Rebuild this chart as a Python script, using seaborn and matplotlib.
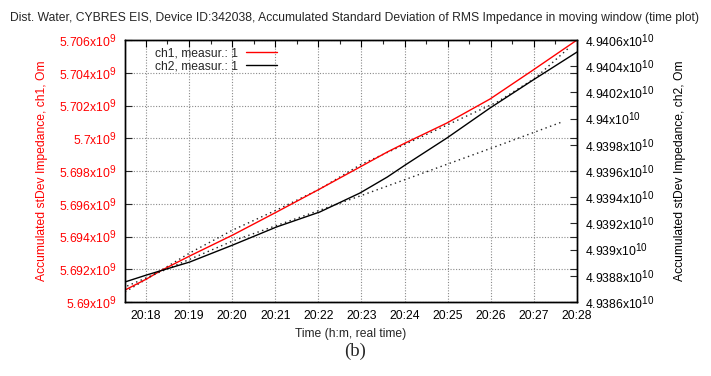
import numpy as np
import pandas as pd
import matplotlib
matplotlib.use("Agg")
import matplotlib.pyplot as plt
import matplotlib.dates as mdates
import matplotlib._mathtext as _mt
from matplotlib.ticker import FixedLocator, FuncFormatter
import seaborn as sns

# ---- data -------------------------------------------------------------
ch1_time = ["20:17:31", "20:18:01", "20:18:20", "20:19:01", "20:20:01", "20:21:02",
            "20:22:02", "20:22:58", "20:23:36", "20:24:01", "20:24:59", "20:25:59",
            "20:26:59", "20:28:00"]
ch1_value = [5.69073e9, 5.691405e9, 5.691893e9, 5.692809e9, 5.694092e9, 5.695496e9,
             5.696901e9, 5.698244e9, 5.699160e9, 5.699710e9, 5.700931e9, 5.702397e9,
             5.704168e9, 5.706000e9]

ch2_time = ["20:17:31", "20:18:01", "20:19:01", "20:20:01", "20:21:02", "20:22:02",
            "20:22:58", "20:23:36", "20:24:01", "20:24:59", "20:25:59", "20:26:59",
            "20:28:00"]
ch2_value = [4.938753e10, 4.938806e10, 4.938905e10, 4.939035e10, 4.939173e10, 4.939287e10,
             4.939432e10, 4.939554e10, 4.939646e10, 4.939852e10, 4.940081e10, 4.940295e10,
             4.940508e10]

ch1_fit_time = ["20:17:31", "20:19:01", "20:20:01", "20:21:02", "20:22:02", "20:22:58",
                "20:26:09", "20:27:02", "20:27:50"]
ch1_fit_value = [5.690611e9, 5.692992e9, 5.694397e9, 5.695618e9, 5.696901e9, 5.698367e9,
                 5.702214e9, 5.703680e9, 5.705573e9]

ch2_fit_time = ["20:17:34", "20:20:01", "20:22:58", "20:26:13", "20:27:39"]
ch2_fit_value = [4.938722e10, 4.939066e10, 4.939409e10, 4.939799e10, 4.939974e10]

legend_labels = ["ch1, measur.: 1", "ch2, measur.: 1"]
title = ("Dist. Water, CYBRES EIS, Device ID:342038, Accumulated Standard Deviation "
         "of RMS Impedance in moving window (time plot)")
left_label = "Accumulated stDev Impedance, ch1, Om"
right_label = "Accumulated stDev Impedance, ch2, Om"
x_label = "Time (h:m, real time)"
caption = "(b)"

left_ticks = [5.690e9, 5.692e9, 5.694e9, 5.696e9, 5.698e9, 5.700e9, 5.702e9, 5.704e9, 5.706e9]
right_ticks = [4.9386e10, 4.9388e10, 4.9390e10, 4.9392e10, 4.9394e10, 4.9396e10,
               4.9398e10, 4.9400e10, 4.9402e10, 4.9404e10, 4.9406e10]


def to_dt(times):
    return pd.to_datetime(["2000-01-01 " + t for t in times])


df1 = pd.DataFrame({"time": to_dt(ch1_time), "value": ch1_value})
df2 = pd.DataFrame({"time": to_dt(ch2_time), "value": ch2_value})
df1f = pd.DataFrame({"time": to_dt(ch1_fit_time), "value": ch1_fit_value})
df2f = pd.DataFrame({"time": to_dt(ch2_fit_time), "value": ch2_fit_value})

# ---- style ------------------------------------------------------------
sns.set_style("white")
plt.rcParams["font.family"] = ["Liberation Sans", "DejaVu Sans"]
plt.rcParams["mathtext.default"] = "regular"
_mt.SHRINK_FACTOR = 0.82  # slightly larger exponents
FS = 8.7

fig = plt.figure(figsize=(7.11, 3.76), dpi=100)
ax = fig.add_axes([125 / 711, 1 - 302 / 376, 452 / 711, 262 / 376])
ax2 = ax.twinx()

RED = "#ff0000"
DOT = (0, (1, 2.5))
sns.lineplot(data=df1f, x="time", y="value", ax=ax, color="#222222",
             linewidth=1.0, linestyle=DOT, legend=False)
sns.lineplot(data=df1, x="time", y="value", ax=ax, color=RED, linewidth=1.0,
             legend=False)
sns.lineplot(data=df2f, x="time", y="value", ax=ax2, color="#222222",
             linewidth=1.0, linestyle=DOT, legend=False)
sns.lineplot(data=df2, x="time", y="value", ax=ax2, color="black", linewidth=1.0,
             legend=False)

x0 = pd.Timestamp("2000-01-01 20:17:31")
x1 = pd.Timestamp("2000-01-01 20:28:00")
ax.set_xlim(x0, x1)
ax.set_ylim(left_ticks[0], left_ticks[-1])
ax2.set_ylim(right_ticks[0], right_ticks[-1])

ax.xaxis.set_major_locator(mdates.MinuteLocator())
ax.xaxis.set_minor_locator(mdates.SecondLocator(bysecond=[30]))
ax.xaxis.set_major_formatter(mdates.DateFormatter("%H:%M"))

ax.yaxis.set_major_locator(FixedLocator(left_ticks))
ax.yaxis.set_major_formatter(FuncFormatter(lambda v, p: f"{round(v / 1e9, 4):g}x10$^{{9}}$"))
ax2.yaxis.set_major_locator(FixedLocator(right_ticks))
ax2.yaxis.set_major_formatter(FuncFormatter(lambda v, p: f"{round(v / 1e10, 5):g}x10$^{{10}}$"))

ax.grid(True, which="major", color="#8a8a8a", linestyle=(0, (1, 1.5)), linewidth=0.8)
ax2.grid(False)

ax.tick_params(axis="x", which="major", direction="in", length=5, width=0.8,
               top=True, labelsize=FS, colors="black", pad=6)
ax.tick_params(axis="x", which="minor", direction="in", length=3, width=0.8, top=True)
ax.tick_params(axis="y", which="major", direction="in", length=5, width=0.8,
               right=True, labelsize=FS, labelcolor=RED, pad=6)
ax2.tick_params(axis="y", which="major", direction="in", length=5, width=0.8,
                labelsize=FS, labelcolor="black", pad=6)

for a in (ax, ax2):
    for s in a.spines.values():
        s.set_visible(True)
        s.set_color("black")
        s.set_linewidth(1.0)

ax.set_xlabel(x_label, fontsize=FS, labelpad=4)
ax.set_ylabel(left_label, fontsize=FS, color=RED, labelpad=8)
ax2.set_ylabel(right_label, fontsize=FS, color="black", labelpad=14)

fig.text(355 / 711, 1 - 18 / 376, title, ha="center", va="center", fontsize=FS)
fig.text(355 / 711, 1 - 351 / 376, caption, ha="center", va="center",
         fontsize=13.5, family=["Liberation Serif", "DejaVu Serif"])

h1 = ax.get_lines()[1]
h2 = ax2.get_lines()[1]
leg = ax.legend([h1, h2], legend_labels, loc="upper left", bbox_to_anchor=(0.05, 1.0),
                frameon=False, markerfirst=False, fontsize=FS, handlelength=2.5,
                handletextpad=0.7, labelspacing=0.1, borderaxespad=0.2)
for t in leg.get_texts():
    t.set_ha("right")

fig.savefig("out.png", dpi=100, facecolor="white")
